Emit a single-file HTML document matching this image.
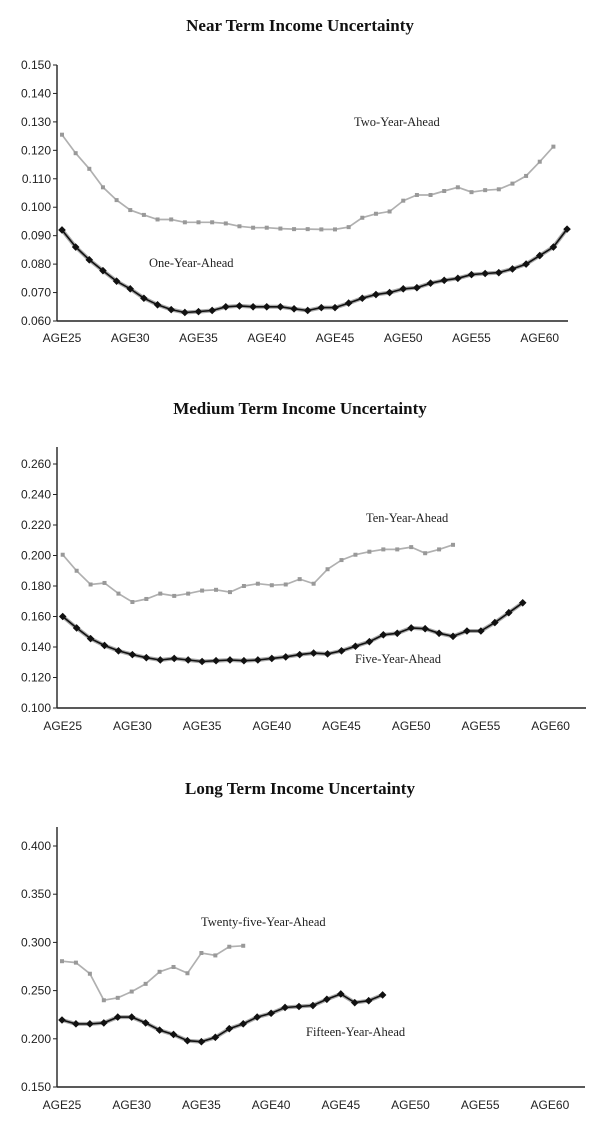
<!DOCTYPE html>
<html><head><meta charset="utf-8"><style>
body{margin:0;background:#fff;}
svg{display:block;}
.t{font-family:"Liberation Serif",serif;font-weight:bold;font-size:17px;fill:#111;}
.tk{font-family:"Liberation Sans",sans-serif;font-size:12px;fill:#222;}
.sl{font-family:"Liberation Serif",serif;font-size:12.5px;fill:#222;}
</style></head><body>
<svg id="fig" width="600" height="1124" viewBox="0 0 600 1124" xmlns="http://www.w3.org/2000/svg"></svg>
<script>
const xCategories = ["AGE25","AGE30","AGE35","AGE40","AGE45","AGE50","AGE55","AGE60"];
const oneYearAhead = [.092,.086,.0815,.0777,.074,.0713,.068,.0657,.064,.063,.0633,.0637,.065,.0653,.065,.065,.065,.0643,.0637,.0647,.0647,.0663,.068,.0693,.070,.0713,.0717,.0733,.0743,.075,.0763,.0767,.077,.0783,.080,.083,.086,.0923];
const twoYearAhead = [.1255,.119,.1135,.107,.1025,.099,.0973,.0957,.0957,.0947,.0947,.0947,.0943,.0933,.0928,.0928,.0925,.0923,.0923,.0922,.0922,.093,.0963,.0977,.0985,.1023,.1043,.1043,.1057,.107,.1053,.106,.1063,.1083,.111,.116,.1213];
const fiveYearAhead = [.160,.1525,.1455,.141,.1375,.135,.133,.1315,.1325,.1315,.1305,.131,.1315,.131,.1315,.1325,.1335,.135,.136,.1355,.1375,.1405,.1435,.148,.149,.1525,.152,.149,.147,.1505,.1505,.156,.1625,.169];
const tenYearAhead = [.2005,.190,.181,.182,.175,.1695,.1715,.175,.1735,.175,.177,.1775,.176,.180,.1815,.1805,.181,.1845,.1815,.191,.197,.2005,.2025,.204,.204,.2055,.2015,.204,.207];
const fifteenYearAhead = [.2195,.2155,.2155,.2165,.2225,.2225,.2165,.209,.2045,.198,.197,.2015,.2105,.2155,.2225,.2265,.2325,.2335,.2345,.241,.2465,.2375,.2395,.2455];
const twentyFiveYearAhead = [.2805,.279,.2675,.240,.2425,.249,.257,.2695,.2745,.268,.289,.2865,.2955,.2965];
const nearTicks = ["0.060","0.070","0.080","0.090","0.100","0.110","0.120","0.130","0.140","0.150"];
const mediumTicks = ["0.100","0.120","0.140","0.160","0.180","0.200","0.220","0.240","0.260"];
const longTicks = ["0.150","0.200","0.250","0.300","0.350","0.400"];

const NS="http://www.w3.org/2000/svg";
const svg=document.getElementById('fig');
function mk(tag,attrs,parent){const e=document.createElementNS(NS,tag);for(const k in attrs)e.setAttribute(k,attrs[k]);(parent||svg).appendChild(e);return e;}

const charts=[
 {key:'near',title:'Near Term Income Uncertainty',titleY:31,ticks:nearTicks,yTop:65,yBot:321,axisTop:65,x0:62,dx:13.65,xEnd:568,labY:342,
  series:[{name:'two-year-ahead',data:twoYearAhead,kind:'gray',label:'Two-Year-Ahead',lx:354,ly:126},
          {name:'one-year-ahead',data:oneYearAhead,kind:'black',label:'One-Year-Ahead',lx:149,ly:267}]},
 {key:'medium',title:'Medium Term Income Uncertainty',titleY:414,ticks:mediumTicks,yTop:464,yBot:708,axisTop:447,x0:62.7,dx:13.94,xEnd:586,labY:730,
  series:[{name:'ten-year-ahead',data:tenYearAhead,kind:'gray',label:'Ten-Year-Ahead',lx:366,ly:522},
          {name:'five-year-ahead',data:fiveYearAhead,kind:'black',label:'Five-Year-Ahead',lx:355,ly:663}]},
 {key:'long',title:'Long Term Income Uncertainty',titleY:794,ticks:longTicks,yTop:846,yBot:1087,axisTop:827,x0:62,dx:13.94,xEnd:585,labY:1109,
  series:[{name:'twenty-five-year-ahead',data:twentyFiveYearAhead,kind:'gray',label:'Twenty-five-Year-Ahead',lx:201,ly:926},
          {name:'fifteen-year-ahead',data:fifteenYearAhead,kind:'black',label:'Fifteen-Year-Ahead',lx:306,ly:1036}]}
];

charts.forEach(c=>{
  const g=mk('g',{});
  
  
  const t=mk('text',{x:300,y:c.titleY,'text-anchor':'middle',class:'t'},g);
  t.textContent=c.title;
  
  
  const vmin=parseFloat(c.ticks[0]), vmax=parseFloat(c.ticks[c.ticks.length-1]);
  const yS=v=>c.yBot-(v-vmin)/(vmax-vmin)*(c.yBot-c.yTop);
  const xS=i=>c.x0+i*c.dx;
  const ax=57;
  const yAxis=mk('line',{x1:ax,y1:c.axisTop,x2:ax,y2:c.yBot,stroke:'#222','stroke-width':1.4},g);
  
  
  const xAxis=mk('line',{x1:ax,y1:c.yBot,x2:c.xEnd,y2:c.yBot,stroke:'#222','stroke-width':1.4},g);
  
  
  c.ticks.forEach(tk=>{
    const y=yS(parseFloat(tk));
    mk('line',{x1:ax-4,y1:y,x2:ax,y2:y,stroke:'#222','stroke-width':1},g);
    const tl=mk('text',{x:ax-6,y:y+4,'text-anchor':'end',class:'tk'},g);
    tl.textContent=tk;
    
    
  });
  xCategories.forEach((cat,i)=>{
    const xl=mk('text',{x:xS(i*5),y:c.labY,'text-anchor':'middle',class:'tk'},g);
    xl.textContent=cat;
    
    
  });
  c.series.forEach(s=>{
    const pts=s.data.map((v,i)=>xS(i).toFixed(1)+','+yS(v).toFixed(1)).join(' ');
    const sg=mk('g',{},g);
    
    
    if(s.kind==='black'){
      mk('polyline',{points:pts,fill:'none',stroke:'#aaa','stroke-width':4},sg);
      mk('polyline',{points:pts,fill:'none',stroke:'#111','stroke-width':1.6},sg);
      s.data.forEach((v,i)=>{
        const x=xS(i),y=yS(v);
        const m=mk('polygon',{points:`${x},${y-3.8} ${x+3.8},${y} ${x},${y+3.8} ${x-3.8},${y}`,fill:'#111'},sg);
        
        
      });
    } else {
      mk('polyline',{points:pts,fill:'none',stroke:'#b0b0b0','stroke-width':1.7},sg);
      s.data.forEach((v,i)=>{
        const x=xS(i),y=yS(v);
        const m=mk('rect',{x:x-2,y:y-2,width:4,height:4,fill:'#999'},sg);
        
        
      });
    }
    const lb=mk('text',{x:s.lx,y:s.ly,class:'sl'},g);
    lb.textContent=s.label;
    
    
  });
});
</script>
</body></html>
